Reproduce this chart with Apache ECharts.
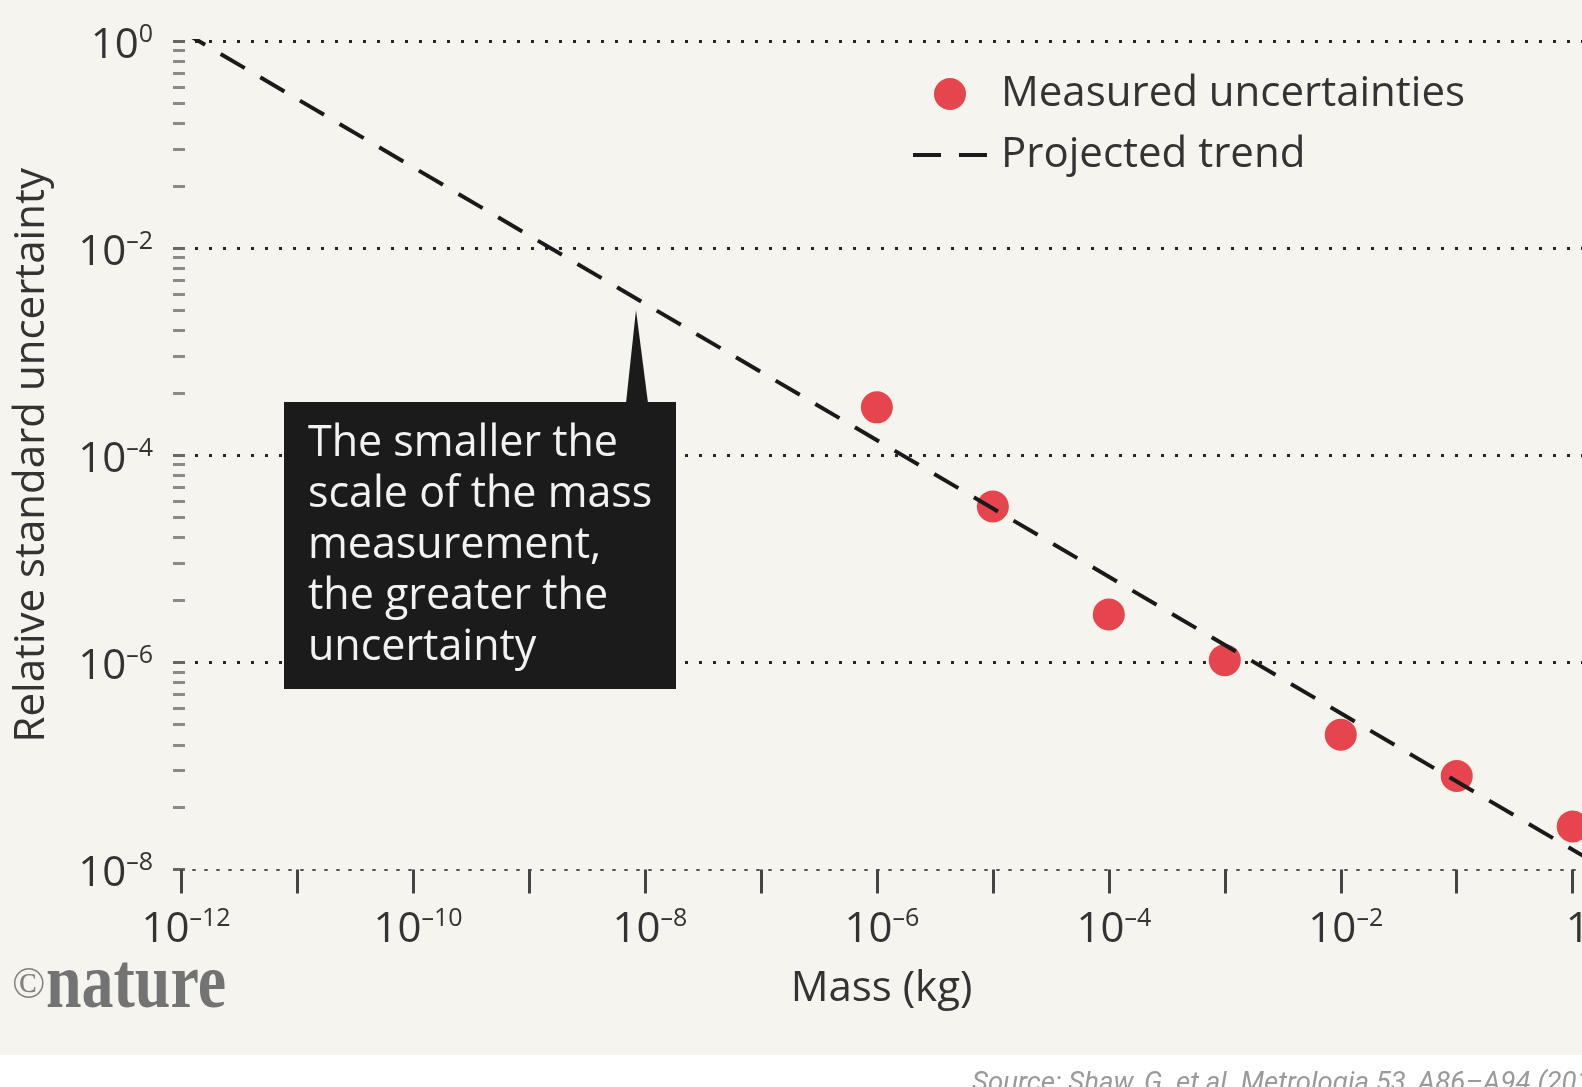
<!DOCTYPE html>
<html>
<head>
<meta charset="utf-8">
<style>
html,body{margin:0;padding:0;background:#fff;}
#chart{width:1582px;height:1087px;}
</style>
<script src="https://cdn.jsdelivr.net/npm/echarts@6/dist/echarts.min.js"></script>
</head>
<body>
<div id="chart"></div>
<script>
// measured points (kg, relative standard uncertainty)
const massKg=[1e-6,1e-5,1e-4,1e-3,1e-2,1e-1,1];
const measuredU=[2.9e-4,3.2e-5,2.9e-6,1.05e-6,2.0e-7,8.0e-8,2.6e-8];
// projected trend end points
const trendMass=[1e-12,10];
const trendU=[1.26,3.4e-9];
const noteLines=['The smaller the','scale of the mass','measurement,','the greater the','uncertainty'];

const fontFam='"Open Sans"';
const txtColor='#333';
const dotColor='#e6454e';
const bkColor='#f5f4ee';

const rich={
    b:{fontSize:42,fontFamily:fontFam,color:txtColor,lineHeight:48},
    s:{fontSize:25,fontFamily:fontFam,color:txtColor,lineHeight:34,verticalAlign:'top'}
};
const powLabel=(e)=>{
    if(e===0) return '{b|10}{s|0}';
    return '{b|10}{s|\u2013'+Math.abs(e)+'}';
};
// two dashes, with hair-thin corners to keep the icon box 74x32
const dashIcon='path://M0,0h0.01v0.01h-0.01z M0,14h28v4h-28z M46,14h28v4h-28z M74,32h0.01v0.01h-0.01z';

var myChart=echarts.init(document.getElementById('chart'));
var option={
    animation:false,
    backgroundColor:bkColor,
    legend:{
        data:[{name:'Measured uncertainties',icon:'circle'},{name:'Projected trend',icon:dashIcon}],
        orient:'vertical',
        left:908,
        top:67,
        itemWidth:74,
        itemHeight:32,
        itemGap:17,
        selectedMode:false,
        itemStyle:{borderWidth:0},
        textStyle:{fontSize:42,fontFamily:fontFam,color:txtColor,lineHeight:44,padding:[0,0,0,9]}
    },
    grid:{left:181,top:41,right:0,bottom:217.5,outerBoundsMode:'none'},
    xAxis:{
        type:'value',
        min:-12,
        max:0.08,
        interval:1,
        name:'Mass (kg)',
        nameLocation:'middle',
        nameGap:99,
        nameTextStyle:{fontSize:42,fontFamily:fontFam,color:txtColor},
        axisLine:{show:true,onZero:false,lineStyle:{color:'#555',width:2,type:[2,10]}},
        axisTick:{show:true,length:24,lineStyle:{color:'#444',width:3}},
        axisLabel:{
            margin:37,
            showMaxLabel:false,
            padding:[0,0,0,10],
            formatter:(v)=>{
                if(v%2!==0) return '';
                if(v===0) return '{b|1}';
                return powLabel(v);
            },
            rich:rich
        },
        splitLine:{show:false}
    },
    yAxis:[{
        type:'value',
        min:-8,
        max:0,
        interval:2,
        name:'Relative standard uncertainty',
        nameLocation:'middle',
        nameGap:128,
        nameTextStyle:{fontSize:42,fontFamily:fontFam,color:txtColor},
        axisLine:{show:false},
        axisTick:{show:false},
        axisLabel:{margin:28,padding:[10,0,0,0],formatter:(v)=>powLabel(v),rich:rich},
        splitLine:{show:true,showMinLine:false,lineStyle:{color:'#262626',width:3,type:[3,11]}}
    },{
        // only draws the little ticks down the left side
        type:'log',
        logBase:10,
        min:1e-4,
        max:1,
        position:'left',
        offset:-4,
        axisLine:{show:false},
        axisLabel:{show:false},
        splitLine:{show:false},
        axisTick:{show:true,length:12,lineStyle:{color:'#666',width:3}},
        minorTick:{show:true,splitNumber:9,length:12,lineStyle:{color:'#8a8a8a',width:3}}
    }],
    series:[{
        name:'Measured uncertainties',
        type:'scatter',
        symbol:'circle',
        symbolSize:32,
        itemStyle:{color:dotColor,opacity:1},
        z:2,
        data:massKg.map((m,i)=>[Math.log10(m),Math.log10(measuredU[i])])
    },{
        name:'Projected trend',
        type:'line',
        symbol:'none',
        lineStyle:{color:'#1a1a1a',width:4,type:[28,18]},
        itemStyle:{color:'#1a1a1a'},
        z:3,
        data:trendMass.map((m,i)=>[Math.log10(m),Math.log10(trendU[i])])
    }],
    graphic:[
        {type:'rect',shape:{x:0,y:1055,width:1582,height:40},style:{fill:'#fff'},z:1},
        {type:'text',x:972,y:1070,style:{text:'Source: Shaw, G. et al. Metrologia 53, A86\u2013A94 (2016).',font:'italic 27.6px Roboto',fill:'#9a9a9a',verticalAlign:'top'},z:2},
        {type:'text',x:12,y:986,style:{text:'\u00a9',font:'44px "Liberation Serif"',fill:'#808080',verticalAlign:'middle'},z:2},
        {type:'text',x:46,y:987,scaleX:0.82,style:{text:'nature',font:'bold 78px "Liberation Serif"',fill:'#737373',verticalAlign:'middle'},z:2},
        {type:'rect',shape:{x:284,y:402,width:392,height:287},style:{fill:'#1b1b1b'},z:20},
        {type:'polygon',shape:{points:[[626,403],[648,403],[636,310]]},style:{fill:'#1b1b1b'},z:20},
        {type:'text',x:308,y:418,style:{text:noteLines.join('\n'),font:'43px '+fontFam,fill:'#f2f2f2',lineHeight:51,verticalAlign:'top'},z:21}
    ]
};
myChart.setOption(option);
</script>
</body>
</html>
